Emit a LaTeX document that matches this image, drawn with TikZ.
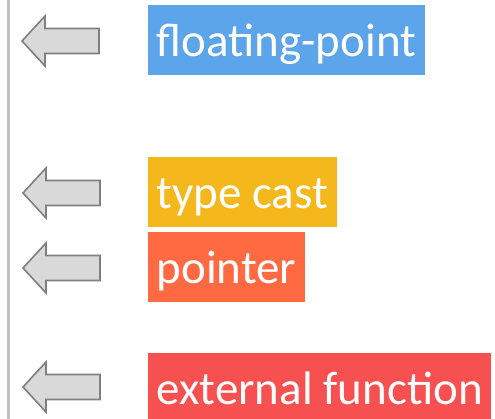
\documentclass[tikz,border=0pt]{standalone}
\usepackage{fontspec}
\setmainfont{Carlito}
\definecolor{fpblue}{HTML}{5DA5EA}
\definecolor{castgold}{HTML}{F4B81C}
\definecolor{ptrorange}{HTML}{FF6A42}
\definecolor{extred}{HTML}{F75050}
\definecolor{arrowfill}{HTML}{D9D9D9}
\definecolor{arrowline}{HTML}{7F7F7F}
\definecolor{railgrey}{HTML}{BFBFBF}
\begin{document}
\begin{tikzpicture}[x=1pt,y=-1pt,
  tag/.style={anchor=north west, inner xsep=8.5pt, inner ysep=0pt,
    text height=51pt, text depth=19pt, text=white,
    font=\fontsize{47}{56}\selectfont},
  larrow/.pic={
    \filldraw[fill=arrowfill, draw=arrowline, line width=1.6pt, line join=miter]
      (0,0) -- (23,-25) -- (23,-12.5) -- (77,-12.5) -- (77,12.5)
      -- (23,12.5) -- (23,25) -- cycle;}]
\useasboundingbox (0,0) rectangle (495,419);

% left rail
\draw[railgrey, line width=3pt] (8.5,0) -- (8.5,419);

% pointing arrows
\pic at (22,41) {larrow};
\pic at (23,193) {larrow};
\pic at (23,268) {larrow};
\pic at (23,387) {larrow};

% category labels
\node[tag, fill=fpblue]    (fp)   at (148,5)   {floating-point};
\node[tag, fill=castgold]  (cast) at (148,157) {type cast};
\node[tag, fill=ptrorange] (ptr)  at (148,232) {pointer};
\node[tag, fill=extred]    (ext)  at (148,353) {external function};
\end{tikzpicture}
\end{document}
